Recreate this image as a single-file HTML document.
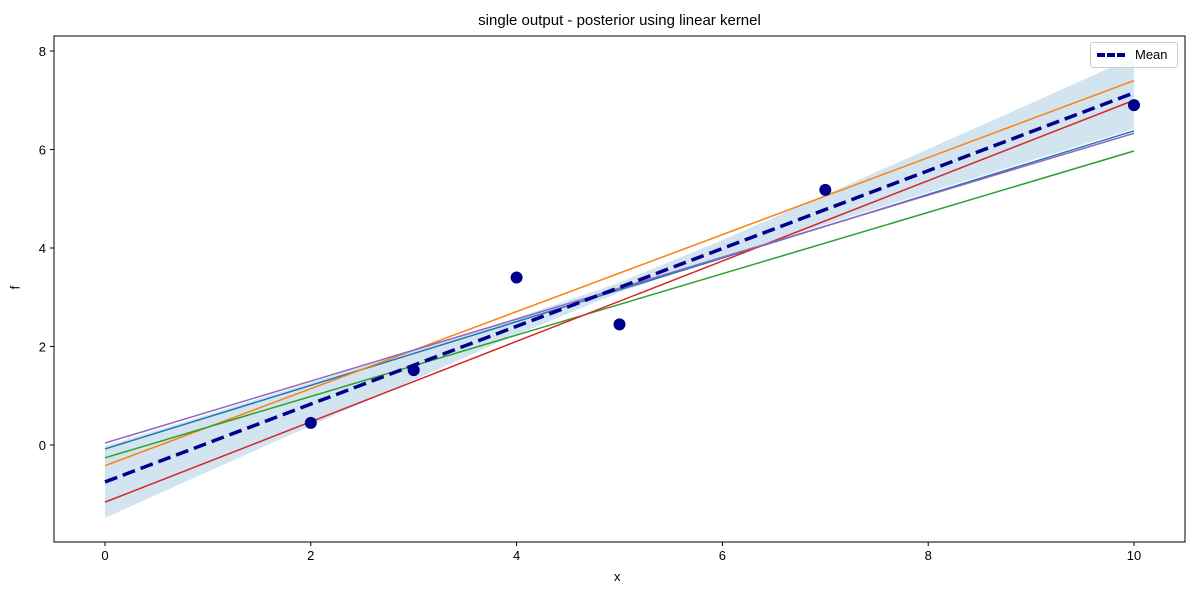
<!DOCTYPE html>
<html><head><meta charset="utf-8"><style>
html,body{margin:0;padding:0;background:#fff;width:1200px;height:600px;overflow:hidden;}
svg{font-family:"Liberation Sans",sans-serif;display:block;}
</style></head><body>
<div style="position:relative;width:1200px;height:600px;">
<svg id="chart" width="1200" height="600" viewBox="0 0 1200 600"></svg>
<div style="position:absolute;left:0;top:0;width:1200px;height:600px;pointer-events:none;">
<div style="position:absolute;top:12px;left:0;width:1239px;text-align:center;font:15px 'Liberation Sans',sans-serif;">single output - posterior using linear kernel</div>
<div style="position:absolute;top:569px;left:614px;font:13px 'Liberation Sans',sans-serif;">x</div>
<div style="position:absolute;top:280px;left:13px;font:13px 'Liberation Sans',sans-serif;transform:rotate(-90deg);">f</div>
<div style="position:absolute;left:1090px;top:42px;width:86px;height:24px;border:1px solid #ccc;border-radius:3px;background:rgba(255,255,255,0.8);">
  <div style="position:absolute;left:6px;top:10px;width:28px;height:0;border-top:4px dashed #00008b;"></div>
  <div style="position:absolute;left:44px;top:4px;font:13px 'Liberation Sans',sans-serif;">Mean</div>
</div>
</div>
</div>
<script>
const sampleStarts = [-0.08, -0.42, -0.26, -1.16, 0.04];
const sampleEnds = [6.38, 7.4, 5.97, 7.0, 6.33];
const sampleColors = ['#1f77b4','#ff7f0e','#2ca02c','#d62728','#9467bd'];
const meanEnds = [-0.75, 7.15];
const bandX = [0,1,2,3,4,5,6,7,8,9,10];
const bandStd = [0.73,0.58,0.44,0.30,0.17,0.10,0.17,0.30,0.44,0.58,0.73];
const pointsX = [2,3,4,5,7,10];
const pointsY = [0.45,1.52,3.4,2.45,5.18,6.9];
const xTicks = [0,2,4,6,8,10];
const yTicks = [0,2,4,6,8];

const svg = document.getElementById('chart');
const NS = 'http://www.w3.org/2000/svg';
const L=54,R=1185,T=36,B=542;
const xs = v => 105 + v*102.9;
const ys = v => 445 - v*49.25;
function mk(tag, attrs, parent){const e=document.createElementNS(NS,tag);for(const k in attrs)e.setAttribute(k,attrs[k]);(parent||svg).appendChild(e);return e;}

let up=[],lo=[];
bandX.forEach((x,i)=>{const m=meanEnds[0]+(meanEnds[1]-meanEnds[0])*x/10;up.push(xs(x)+','+ys(m+bandStd[i]));lo.unshift(xs(x)+','+ys(m-bandStd[i]));});
const band=mk('polygon',{points:up.concat(lo).join(' '),fill:'#1f77b4','fill-opacity':0.2});



sampleStarts.forEach((s,i)=>{
  const l=mk('line',{x1:xs(0),y1:ys(s),x2:xs(10),y2:ys(sampleEnds[i]),stroke:sampleColors[i],'stroke-width':1.5});
  
  
});
const ml=mk('line',{x1:xs(0),y1:ys(meanEnds[0]),x2:xs(10),y2:ys(meanEnds[1]),stroke:'#00008b','stroke-width':3.5,'stroke-dasharray':'13,6'});



pointsX.forEach((x,i)=>{
  const c=mk('circle',{cx:xs(x),cy:ys(pointsY[i]),r:6,fill:'#00008b'});
  
  
});

const fr=mk('rect',{x:L,y:T,width:R-L,height:B-T,fill:'none',stroke:'#000','stroke-width':1});



xTicks.forEach(v=>{
  mk('line',{x1:xs(v),y1:B,x2:xs(v),y2:B+4,stroke:'#000'});
  const t=mk('text',{x:xs(v),y:B+18,'text-anchor':'middle','font-size':13});
  t.textContent=v;
  
  
});
yTicks.forEach(v=>{
  mk('line',{x1:L-4,y1:ys(v),x2:L,y2:ys(v),stroke:'#000'});
  const t=mk('text',{x:L-8,y:ys(v)+5,'text-anchor':'end','font-size':13});
  t.textContent=v;
  
  
});
</script>
</body></html>
